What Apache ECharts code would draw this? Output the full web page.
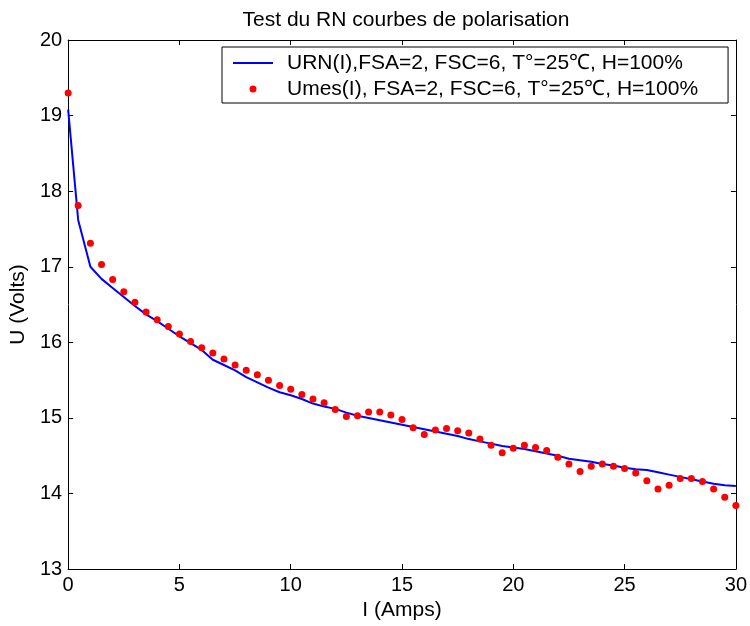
<!DOCTYPE html>
<html>
<head>
<meta charset="utf-8">
<script src="https://cdn.jsdelivr.net/npm/echarts@6/dist/echarts.min.js"></script>
<style>html,body{margin:0;padding:0;background:#fff;}#c{width:750px;height:626px;}</style>
</head>
<body>
<div id="c"></div>
<script>
const titleText = 'Test du RN courbes de polarisation';
const xName = 'I (Amps)';
const yName = 'U (Volts)';
const modelName = 'URN(I),FSA=2, FSC=6, T°=25℃, H=100%';
const measName = 'Umes(I), FSA=2, FSC=6, T°=25℃, H=100%';
const xTicks = [0, 5, 10, 15, 20, 25, 30];
const yTicks = [13, 14, 15, 16, 17, 18, 19, 20];

const current = [0, 0.45, 1, 1.5, 2, 2.5, 3, 3.5, 4, 4.5, 5, 5.5, 6, 6.5, 7, 7.5, 8, 8.5, 9, 9.5,
  10, 10.5, 11, 11.5, 12, 12.5, 13, 13.5, 14, 14.5, 15, 15.5, 16, 16.5, 17, 17.5, 18, 18.5, 19, 19.5,
  20, 20.5, 21, 21.5, 22, 22.5, 23, 23.5, 24, 24.5, 25, 25.5, 26, 26.5, 27, 27.5, 28, 28.5, 29, 29.5, 30];

const uModel = [19.08, 17.62, 17.00, 16.84, 16.72, 16.60, 16.48, 16.37, 16.28, 16.18,
  16.08, 15.99, 15.90, 15.77, 15.70, 15.63, 15.54, 15.47, 15.40, 15.34,
  15.30, 15.25, 15.19, 15.15, 15.12, 15.07, 15.03, 15.00, 14.97, 14.94,
  14.91, 14.88, 14.85, 14.82, 14.79, 14.76, 14.72, 14.69, 14.66, 14.63,
  14.61, 14.59, 14.56, 14.53, 14.50, 14.46, 14.44, 14.42, 14.39, 14.37,
  14.34, 14.32, 14.31, 14.28, 14.25, 14.22, 14.19, 14.16, 14.13, 14.11, 14.10];

const uMeas = [19.30, 17.81, 17.31, 17.03, 16.83, 16.67, 16.53, 16.40, 16.30, 16.21,
  16.11, 16.01, 15.93, 15.86, 15.78, 15.70, 15.63, 15.57, 15.50, 15.43,
  15.38, 15.31, 15.25, 15.20, 15.11, 15.02, 15.03, 15.08, 15.08, 15.04,
  14.98, 14.87, 14.78, 14.84, 14.86, 14.83, 14.80, 14.72, 14.64, 14.54,
  14.60, 14.64, 14.61, 14.57, 14.48, 14.39, 14.29, 14.36, 14.39, 14.36,
  14.33, 14.27, 14.17, 14.06, 14.11, 14.20, 14.20, 14.16, 14.06, 13.95, 13.84];

const FONT = '"Liberation Sans", Arial, sans-serif';
const chart = echarts.init(document.getElementById('c'), null, {renderer: 'canvas'});

const axisCommon = {
  axisLine: {show: true, onZero: false, lineStyle: {color: '#000', width: 1}},
  axisTick: {show: true, inside: true, length: 5, lineStyle: {color: '#000'}},
  splitLine: {show: false}
};

chart.setOption({
  backgroundColor: '#fff',
  animation: false,
  title: {
    text: titleText, left: 401, top: 5, textAlign: 'center',
    textStyle: {fontFamily: FONT, fontSize: 21, fontWeight: 'normal', color: '#000'}
  },
  grid: {left: 65, right: 13, top: 40, bottom: 55, containLabel: false},
  legend: {
    orient: 'vertical', left: 222, top: 47,
    backgroundColor: '#fff', borderColor: '#000', borderWidth: 1, borderRadius: 0,
    padding: [5, 30, 3, 11], itemWidth: 49, itemHeight: 14, itemGap: 4,
    textStyle: {fontFamily: FONT, fontSize: 21, color: '#000', lineHeight: 22},
    data: [
      {name: modelName, icon: 'path://M0,0 M49,14 M0,6 L40,6 L40,8 L0,8 Z'},
      {name: measName, icon: 'path://M0,0 M49,14 M23.5,7 A3.5,3.5 0 1 1 16.5,7 A3.5,3.5 0 1 1 23.5,7 Z'}
    ]
  },
  xAxis: [
    Object.assign({
      type: 'value', min: 0, max: 30, interval: 5, position: 'bottom',
      name: xName, nameLocation: 'middle', nameGap: 29,
      nameTextStyle: {fontFamily: FONT, fontSize: 21, color: '#000'},
      axisLabel: {fontFamily: FONT, fontSize: 20, color: '#000', margin: 6}
    }, axisCommon),
    Object.assign({
      type: 'value', min: 0, max: 30, interval: 5, position: 'top',
      axisLabel: {show: false}
    }, axisCommon)
  ],
  yAxis: [
    Object.assign({
      type: 'value', min: 13, max: 20, interval: 1, position: 'left',
      name: yName, nameLocation: 'middle', nameGap: 35,
      nameTextStyle: {fontFamily: FONT, fontSize: 21, color: '#000'},
      axisLabel: {fontFamily: FONT, fontSize: 20, color: '#000', margin: 6}
    }, axisCommon),
    Object.assign({
      type: 'value', min: 13, max: 20, interval: 1, position: 'right',
      axisLabel: {show: false}
    }, axisCommon)
  ],
  series: [
    {
      name: modelName, type: 'line', xAxisIndex: 0, yAxisIndex: 0,
      data: current.map((x, i) => [x, uModel[i]]),
      showSymbol: false, symbol: 'none',
      lineStyle: {color: '#0000ff', width: 2}, itemStyle: {color: '#0000ff'},
      z: 2
    },
    {
      name: measName, type: 'scatter', xAxisIndex: 0, yAxisIndex: 0,
      data: current.map((x, i) => [x, uMeas[i]]),
      symbol: 'circle', symbolSize: 7,
      itemStyle: {color: '#ff0000', opacity: 1},
      z: 3
    }
  ]
});
</script>
</body>
</html>
